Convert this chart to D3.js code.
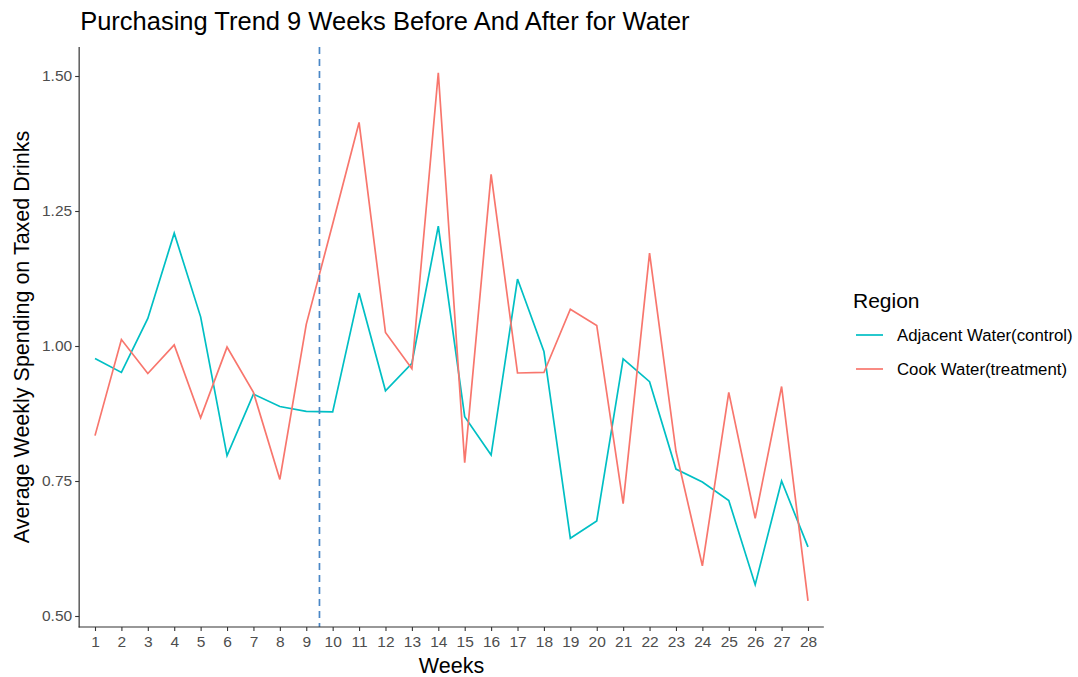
<!DOCTYPE html>
<html>
<head>
<meta charset="utf-8">
<script src="https://cdn.jsdelivr.net/npm/d3@7"></script>
<style>
  body { margin: 0; background: #fff; }
  text { font-family: "Liberation Sans", Arial, sans-serif; }
</style>
</head>
<body>
<svg width="1078" height="677"></svg>
<script>
// data
const weeks = d3.range(1, 29);
const seriesNames = ['Adjacent Water(control)', 'Cook Water(treatment)'];
const adjacent = [0.977, 0.951, 1.051, 1.209, 1.054, 0.797, 0.911, 0.888, 0.879, 0.878,
                  1.098, 0.917, 0.968, 1.222, 0.869, 0.798, 1.124, 0.990, 0.644, 0.676,
                  0.976, 0.934, 0.772, 0.748, 0.714, 0.558, 0.750, 0.628];
const cook = [0.834, 1.012, 0.949, 1.002, 0.867, 0.998, 0.914, 0.753, 1.040, 1.226,
              1.414, 1.025, 0.958, 1.506, 0.784, 1.318, 0.950, 0.951, 1.068, 1.038,
              0.708, 1.172, 0.805, 0.593, 0.914, 0.681, 0.925, 0.528];
const yTicks = [0.5, 0.75, 1.0, 1.25, 1.5];
const cutoff = 9.5;

const svg = d3.select('svg');
const colors = { 'Adjacent Water(control)': '#00BFC4', 'Cook Water(treatment)': '#F8766D' };

// panel
const x = d3.scaleLinear().domain([1, 28]).range([95, 808]);
const y = d3.scaleLinear().domain([0.5, 1.5]).range([616, 76]);
const pLeft = x(0.4), pRight = x(28.6), pTop = 47, pBottom = 627;

const g = svg.append('g');

// lines
const line = d3.line().x((d, i) => x(weeks[i])).y(d => y(d));
const data = [
  { name: seriesNames[0], values: adjacent },
  { name: seriesNames[1], values: cook }
];
g.selectAll('path.series').data(data).enter().append('path')
  .attr('class', 'series')
  .attr('d', d => line(d.values))
  .attr('fill', 'none')
  .attr('stroke', d => colors[d.name])
  .attr('stroke-width', 1.7);

// dashed vertical cutoff
g.append('line')
  .attr('x1', x(cutoff)).attr('x2', x(cutoff))
  .attr('y1', pTop).attr('y2', pBottom)
  .attr('stroke', '#4A87C6')
  .attr('stroke-width', 1.7)
  .attr('stroke-dasharray', '7,5');

// axes
const yAxis = g.append('g')
  .attr('transform', `translate(${pLeft},0)`)
  .call(d3.axisLeft(y).tickValues(yTicks).tickFormat(d3.format('.2f')).tickSize(4).tickPadding(3));
const xAxis = g.append('g')
  .attr('transform', `translate(0,${pBottom})`)
  .call(d3.axisBottom(x).tickValues(weeks).tickFormat(d3.format('d')).tickSize(4).tickPadding(5));

[xAxis, yAxis].forEach(a => {
  a.select('.domain').remove();
  a.selectAll('.tick line').attr('stroke', '#333').attr('stroke-width', 1.1);
  a.selectAll('.tick text').attr('fill', '#4d4d4d').style('font-size', '15.5px');
});
g.append('line').attr('x1', pLeft).attr('x2', pLeft).attr('y1', pTop).attr('y2', pBottom + 0.5)
  .attr('stroke', '#333').attr('stroke-width', 1.2);
g.append('line').attr('x1', pLeft - 0.5).attr('x2', pRight).attr('y1', pBottom).attr('y2', pBottom)
  .attr('stroke', '#333').attr('stroke-width', 1.2);

// titles
svg.append('text').attr('x', pLeft + 1).attr('y', 30)
  .style('font-size', '25.5px').attr('fill', '#000')
  .text('Purchasing Trend 9 Weeks Before And After for Water');
svg.append('text').attr('x', (pLeft + pRight) / 2).attr('y', 673)
  .attr('text-anchor', 'middle').style('font-size', '21.5px')
  .text('Weeks');
svg.append('text')
  .attr('transform', `translate(29,${(pTop + pBottom) / 2}) rotate(-90)`)
  .attr('text-anchor', 'middle').style('font-size', '21.5px')
  .text('Average Weekly Spending on Taxed Drinks');

// legend
const legend = svg.append('g').attr('transform', 'translate(853,0)');
legend.append('text').attr('x', 0).attr('y', 308).style('font-size', '21px').text('Region');
const items = legend.selectAll('g.item').data(seriesNames).enter().append('g')
  .attr('class', 'item')
  .attr('transform', (d, i) => `translate(0,${335 + i * 34})`);
items.append('line').attr('x1', 3).attr('x2', 30).attr('y1', 0).attr('y2', 0)
  .attr('stroke', d => colors[d]).attr('stroke-width', 1.7);
items.append('text').attr('x', 44).attr('y', 6).style('font-size', '16.8px').attr('fill', '#000')
  .text(d => d);
</script>
</body>
</html>
